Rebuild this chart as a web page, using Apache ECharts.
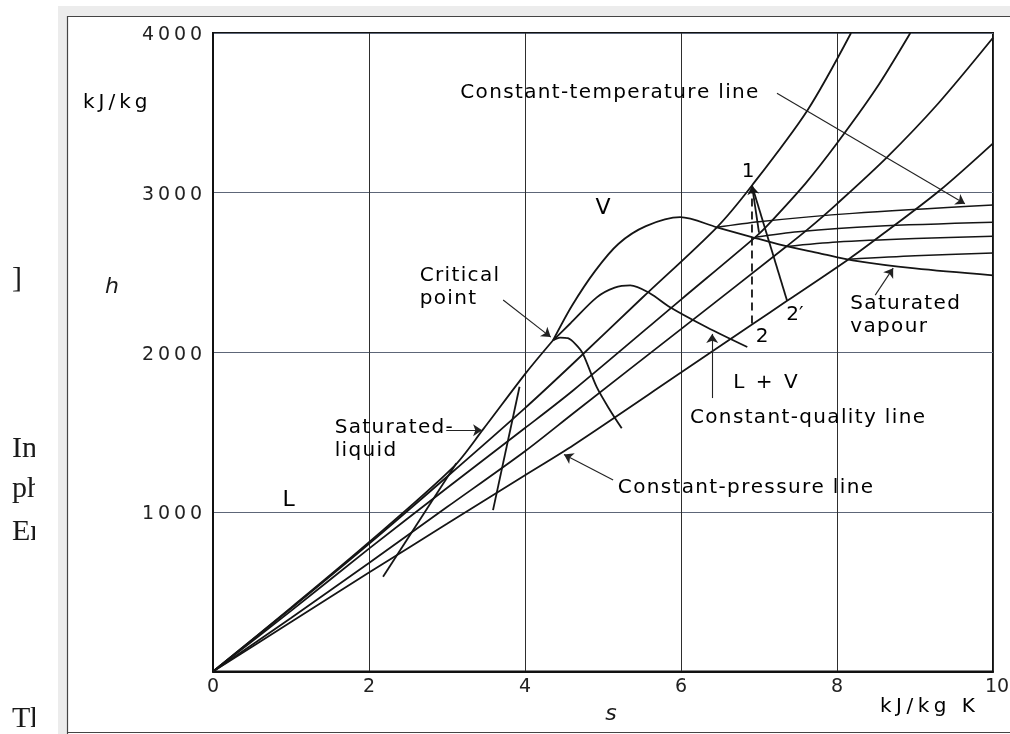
<!DOCTYPE html>
<html>
<head>
<meta charset="utf-8">
<script src="https://cdn.jsdelivr.net/npm/echarts@6/dist/echarts.min.js"></script>
<style>
html, body { margin: 0; padding: 0; background: #fff; }
#chart { width: 1010px; height: 734px; }
</style>
</head>
<body>
<div id="chart"></div>
<script>
// h-s diagram of steam: s in kJ/kg K, h in kJ/kg
const satLiquid = [[0, 0], [1, 400], [2, 810], [3.08, 1280], [3.46, 1515], [4.01, 1869], [4.36, 2075]]
const satVapour = [[4.36, 2075], [4.6, 2290], [4.9, 2510], [5.2, 2680], [5.55, 2790], [5.99, 2846], [6.46, 2783], [6.92, 2720], [7.31, 2669], [7.78, 2620], [8.2, 2576], [9, 2525], [10, 2482]]

const isobar1 = [[0, 0], [1, 395], [2, 800], [3, 1220], [4, 1650], [4.62, 1931], [5.5, 2340], [6.46, 2783], [6.91, 3045], [7.62, 3515], [8.18, 4000]]
const isobar2 = [[0, 0], [1, 380], [2, 770], [3, 1150], [4, 1525], [4.62, 1762], [6, 2330], [6.95, 2720], [7.1, 2790], [7.6, 3060], [8, 3309], [8.5, 3650], [8.94, 4000]]
const isobar3 = [[0, 0], [1, 335], [2, 680], [3, 1030], [4, 1380], [4.62, 1618], [6, 2145], [7.35, 2662], [7.62, 2768], [8, 2930], [8.64, 3221], [9.3, 3560], [10, 3970]]
const isobar4 = [[0, 0], [1, 310], [2, 620], [3, 925], [4, 1230], [4.62, 1418], [6, 1873], [6.91, 2174], [7.36, 2322], [8.15, 2583], [8.6, 2745], [9.32, 3015], [10, 3309]]

const isotherm1 = [[6.46, 2783], [7, 2818], [8.2, 2870], [10, 2922]]
const isotherm2 = [[6.95, 2720], [7.5, 2755], [8.5, 2790], [10, 2815]]
const isotherm3 = [[7.35, 2662], [8, 2690], [9, 2712], [10, 2726]]
const isotherm4 = [[8.15, 2583], [9, 2605], [10, 2621]]

const qualityNearCrit = [[4.36, 2075], [4.45, 2092], [4.55, 2088], [4.65, 2050], [4.74, 1993], [4.92, 1781], [5.09, 1637], [5.24, 1524]]
const qualityMid = [[4.36, 2075], [4.58, 2180], [4.92, 2344], [5.15, 2405], [5.35, 2419], [5.6, 2370], [5.86, 2282], [6.33, 2157], [6.85, 2033]]
const liquidLine1 = [[2.18, 594], [3.12, 1304]]
const liquidLine2 = [[3.59, 1011], [3.93, 1784]]

const point1 = [6.91, 3045]
const point2 = [6.91, 2174]
const point2p = [7.36, 2322]

const hTickLabels = ['', '1000', '2000', '3000', '4000']

// annotation arrows [from, to] in s-h units
const arrows = [
  [[7.23, 3623], [9.64, 2930]],
  [[3.72, 2327], [4.33, 2095]],
  [[2.99, 1511], [3.45, 1511]],
  [[8.49, 2358], [8.72, 2527]],
  [[6.4, 1713], [6.4, 2115]],
  [[5.13, 1199], [4.5, 1360]],
]

const notes = [
  { text: 'Constant-temperature line', at: [3.17, 3623] },
  { text: 'V', at: [5.0, 2903], align: 'center', size: 22, gap: 0 },
  { text: 'Critical\npoint', at: [2.65, 2408] },
  { text: 'Saturated-\nliquid', at: [1.56, 1453] },
  { text: 'L', at: [0.97, 1074], align: 'center', size: 22, gap: 0 },
  { text: 'L + V', at: [6.67, 1807], gap: 2.5 },
  { text: 'Constant-quality line', at: [6.115, 1588] },
  { text: 'Constant-pressure line', at: [5.19, 1149] },
  { text: 'Saturated\nvapour', at: [8.17, 2230] },
  { text: '1', at: [6.86, 3128], align: 'center', gap: 0 },
  { text: '2', at: [7.04, 2094], align: 'center', gap: 0 },
  { text: '2\u2032', at: [7.46, 2233], align: 'center', gap: 0 },
]

const FONT = 'DejaVu Sans'
const INK = '#151515'

const measureCtx = document.createElement('canvas').getContext('2d')
// rich text with extra letter spacing
const spaced = (str, size, gap, family) => {
  family = family || FONT
  measureCtx.font = size + 'px "' + family + '"'
  const rich = {}
  let out = ''
  Array.from(str).forEach((ch, i) => {
    if (ch === '\n') {
      out += '\n'
      return
    }
    const key = 'c' + i
    rich[key] = {
      width: measureCtx.measureText(ch).width + gap,
      fontSize: size,
      fontFamily: family,
      lineHeight: Math.round(size * 1.15),
      color: '#1a1a1a',
    }
    out += '{' + key + '|' + ch + '}'
  })
  return { text: out, rich }
}

const curve = (name, data, extra) => Object.assign({
  name,
  type: 'line',
  data,
  symbol: 'none',
  showSymbol: false,
  smooth: 0.3,
  silent: true,
  z: 3,
  lineStyle: { color: INK, width: 1.8 },
}, extra || {})

const chart = echarts.init(document.getElementById('chart'), null, { renderer: 'canvas' })

const option = {
  animation: false,
  backgroundColor: '#fff',
  grid: {
    left: 213,
    right: 17,
    top: 33,
    bottom: 62.5,
    show: true,
    borderColor: '#111',
    borderWidth: 2,
    containLabel: false,
    outerBoundsMode: 'none',
  },
  xAxis: {
    type: 'value',
    min: 0,
    max: 10,
    interval: 2,
    axisLine: { show: true, onZero: false, lineStyle: { color: '#111', width: 2 } },
    axisTick: { show: false },
    splitLine: { show: true, lineStyle: { color: '#2e2e2e', width: 1 } },
    axisLabel: {
      margin: 6,
      formatter: (v) => (v === 10 ? '{t|10}' : '{n|' + v + '}'),
      rich: {
        n: { fontSize: 19, fontFamily: FONT, color: '#222' },
        t: { fontSize: 19, fontFamily: FONT, color: '#222', padding: [0, 0, 7, 8] },
      },
    },
  },
  yAxis: {
    type: 'value',
    min: 0,
    max: 4000,
    interval: 1000,
    axisLine: { show: true, onZero: false, lineStyle: { color: '#111', width: 2 } },
    axisTick: { show: false },
    splitLine: { show: true, lineStyle: { color: '#5d6678', width: 1 } },
    axisLabel: {
      margin: 9,
      formatter: (v) => {
        const t = hTickLabels[Math.round(v / 1000)] || ''
        return t.split('').map((c) => '{d|' + c + '}').join('')
      },
      rich: {
        d: { width: 16, align: 'center', fontSize: 19, fontFamily: FONT, color: '#222', padding: [5, 0, 0, 0] },
      },
    },
  },
  series: [
    curve('Saturated liquid', satLiquid),
    curve('Saturated vapour', satVapour, {
      markLine: {
        silent: true,
        symbol: ['none', 'arrow'],
        symbolSize: 9,
        label: { show: false },
        lineStyle: { color: '#222', width: 1.1, type: 'solid' },
        data: arrows.map((a) => [{ coord: a[0] }, { coord: a[1] }]),
      },
    }),
    curve('p1', isobar1),
    curve('p2', isobar2),
    curve('p3', isobar3),
    curve('p4', isobar4),
    curve('T1', isotherm1, { lineStyle: { color: INK, width: 1.5 } }),
    curve('T2', isotherm2, { lineStyle: { color: INK, width: 1.5 } }),
    curve('T3', isotherm3, { lineStyle: { color: INK, width: 1.5 } }),
    curve('T4', isotherm4, { lineStyle: { color: INK, width: 1.5 } }),
    curve('x near critical', qualityNearCrit),
    curve('x mid', qualityMid),
    curve('liquid a', liquidLine1, { smooth: false }),
    curve('liquid b', liquidLine2, { smooth: false }),
    curve('1-2', [point1, point2], {
      smooth: false,
      lineStyle: { color: INK, width: 1.8, type: [8, 5] },
    }),
    curve('1-2p', [point2p, point1], {
      smooth: false,
      markLine: {
        silent: true,
        symbol: ['none', 'arrow'],
        symbolSize: 9,
        label: { show: false },
        lineStyle: { color: INK, width: 1.8, type: 'solid' },
        data: [[{ coord: [7.0, 2750] }, { coord: point1 }]],
      },
    }),
  ],
}

chart.setOption(option)

const toPx = (p) => chart.convertToPixel({ gridIndex: 0 }, p)

const graphic = []
// page furniture around the scanned figure
graphic.push(
  { type: 'rect', shape: { x: 58, y: 6, width: 952, height: 10 }, style: { fill: '#ececec' }, silent: true },
  { type: 'rect', shape: { x: 58, y: 16, width: 9, height: 718 }, style: { fill: '#ececec' }, silent: true },
  { type: 'line', shape: { x1: 67.5, y1: 16, x2: 67.5, y2: 734 }, style: { stroke: '#444', lineWidth: 1.2 }, silent: true },
  { type: 'line', shape: { x1: 67, y1: 16.5, x2: 1010, y2: 16.5 }, style: { stroke: '#444', lineWidth: 1.2 }, silent: true },
  { type: 'line', shape: { x1: 67, y1: 732.5, x2: 1010, y2: 732.5 }, style: { stroke: '#444', lineWidth: 1.2 }, silent: true },
)
const frags = [['\u005d', 279], ['In', 449], ['ph', 489], ['En', 532], ['Th', 719]]
frags.forEach((f) => {
  graphic.push({
    type: 'text', x: 12, y: f[1], silent: true,
    style: { text: f[0], fontSize: 30, fontFamily: 'Liberation Serif', fill: '#1a1a1a', verticalAlign: 'middle' },
  })
})
graphic.push({ type: 'rect', shape: { x: 35, y: 0, width: 23, height: 734 }, style: { fill: '#fff' }, silent: true, z: 200 })

// axis titles
const kj = spaced('kJ/kg', 20, 4)
graphic.push({ type: 'text', x: 83, y: 103, silent: true, style: { text: kj.text, rich: kj.rich, verticalAlign: 'middle' } })
const kjk = spaced('kJ/kg K', 20, 4.5)
graphic.push({ type: 'text', x: 880, y: 707, silent: true, style: { text: kjk.text, rich: kjk.rich, verticalAlign: 'middle' } })
graphic.push({ type: 'text', x: 112, y: 287, silent: true, style: { text: 'h', font: 'italic 22px "DejaVu Sans"', fill: '#1a1a1a', align: 'center', verticalAlign: 'middle' } })
graphic.push({ type: 'text', x: 611, y: 714, silent: true, style: { text: 's', font: 'italic 22px "DejaVu Sans"', fill: '#1a1a1a', align: 'center', verticalAlign: 'middle' } })

notes.forEach((n) => {
  const p = toPx(n.at)
  const t = spaced(n.text, n.size || 20, n.gap === undefined ? 1.35 : n.gap)
  graphic.push({
    type: 'text', x: p[0], y: p[1], silent: true, z: 50,
    style: { text: t.text, rich: t.rich, align: n.align || 'left', verticalAlign: 'middle' },
  })
})

chart.setOption({ graphic })
</script>
</body>
</html>
